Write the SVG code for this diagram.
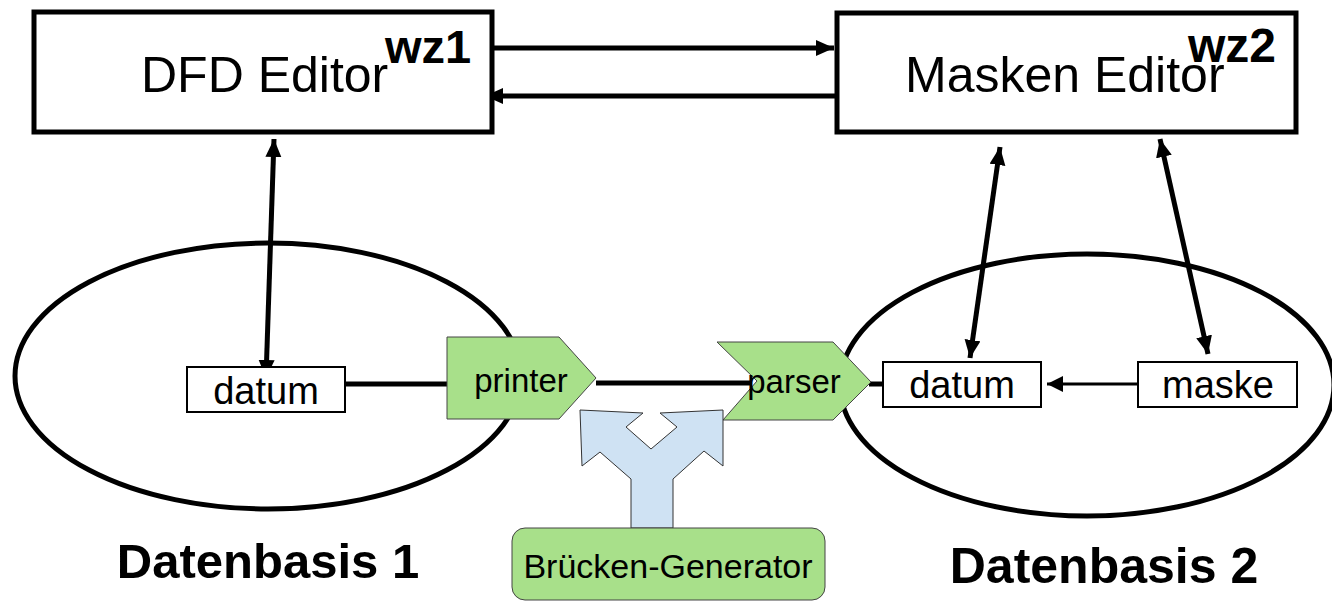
<svg xmlns="http://www.w3.org/2000/svg" width="1332" height="601" viewBox="0 0 1332 601">
<style>
  text { font-family: "Liberation Sans", Arial, sans-serif; fill: #000; }
  .box { fill: #fff; stroke: #000; stroke-width: 5; }
  .small { fill: #fff; stroke: #000; stroke-width: 2; }
  .ell { fill: none; stroke: #000; stroke-width: 5; }
  .green { fill: #a8e08a; stroke: #444; stroke-width: 1; }
  .blue { fill: #cfe2f3; stroke: #333; stroke-width: 1; }
  .conn { stroke: #000; stroke-width: 5; fill: none; }
  .thin { stroke: #000; stroke-width: 3; fill: none; }
  .big { font-size: 50px; }
  .bold { font-weight: bold; }
  .mid { font-size: 38px; }
  .lab { font-size: 33px; }
</style>
<defs>
  <marker id="ah" markerUnits="userSpaceOnUse" markerWidth="20" markerHeight="18" refX="18" refY="8" orient="auto-start-reverse">
    <path d="M0,0 L18,8 L0,16 z" fill="#000"/>
  </marker>
  <marker id="ahs" markerUnits="userSpaceOnUse" markerWidth="18" markerHeight="18" refX="16" refY="8" orient="auto-start-reverse">
    <path d="M0,0 L16,8 L0,16 z" fill="#000"/>
  </marker>
</defs>

<g id="db1">
  <ellipse class="ell" cx="268" cy="376" rx="253" ry="133"/>
  <text x="268" y="578" class="bold" font-size="49" text-anchor="middle">Datenbasis 1</text>
</g>
<g id="db2">
  <ellipse class="ell" cx="1087" cy="385" rx="247" ry="131"/>
  <text x="1104" y="583" class="bold" font-size="50" text-anchor="middle">Datenbasis 2</text>
</g>

<g id="connectors">
  <line class="conn" x1="490" y1="48" x2="834" y2="48" marker-end="url(#ah)"/>
  <line class="conn" x1="836" y1="96" x2="485" y2="96" marker-end="url(#ah)"/>
  <line class="conn" x1="274" y1="139" x2="266" y2="378" marker-start="url(#ah)" marker-end="url(#ah)"/>
  <line class="conn" x1="1000" y1="147" x2="970" y2="358" marker-start="url(#ah)" marker-end="url(#ah)"/>
  <line class="conn" x1="1160" y1="139" x2="1208" y2="354" marker-start="url(#ah)" marker-end="url(#ah)"/>
  <line class="conn" x1="345" y1="384" x2="447" y2="384"/>
  <line class="conn" x1="596" y1="383" x2="752" y2="383"/>
  <line class="conn" x1="869" y1="384" x2="883" y2="384"/>
  <line class="thin" x1="1138" y1="384" x2="1047" y2="384" marker-end="url(#ahs)"/>
</g>

<g id="dfd-editor">
  <rect class="box" x="34" y="12" width="458" height="120"/>
  <text x="141" y="92" class="big">DFD Editor</text>
  <text x="385" y="63" class="bold" font-size="47">wz1</text>
</g>
<g id="masken-editor">
  <rect class="box" x="837" y="13" width="459" height="119"/>
  <text x="905" y="92" class="big">Masken Editor</text>
  <text x="1188" y="62" class="bold" font-size="48">wz2</text>
</g>

<g id="datum1">
  <rect class="small" x="187" y="367" width="158" height="45"/>
  <text x="266" y="404" class="mid" text-anchor="middle">datum</text>
</g>
<g id="datum2">
  <rect class="small" x="883" y="362" width="158" height="45"/>
  <text x="962" y="398" class="mid" text-anchor="middle">datum</text>
</g>
<g id="maske">
  <rect class="small" x="1138" y="362" width="159" height="45"/>
  <text x="1218" y="398" class="mid" text-anchor="middle">maske</text>
</g>

<g id="printer">
  <polygon class="green" points="447,337 559,337 596,378 559,419 447,419"/>
  <text x="521" y="392" class="lab" text-anchor="middle">printer</text>
</g>
<g id="parser">
  <polygon class="green" points="717,342 833,342 871,382 833,420 723,420 757,381"/>
  <text x="794" y="393" class="lab" text-anchor="middle">parser</text>
</g>

<g id="split-arrow">
  <polygon class="blue" points="580,410 643,413 626,427 651,449 677,427 660,413 723,410 723,466 704,451 673,479 673,528 631,528 631,479 600,452 582,466"/>
</g>
<g id="bruecken-generator">
  <rect class="green" x="512" y="528" width="313" height="72" rx="13" ry="13"/>
  <text x="668" y="578" font-size="34" text-anchor="middle">Brücken-Generator</text>
</g>
</svg>
